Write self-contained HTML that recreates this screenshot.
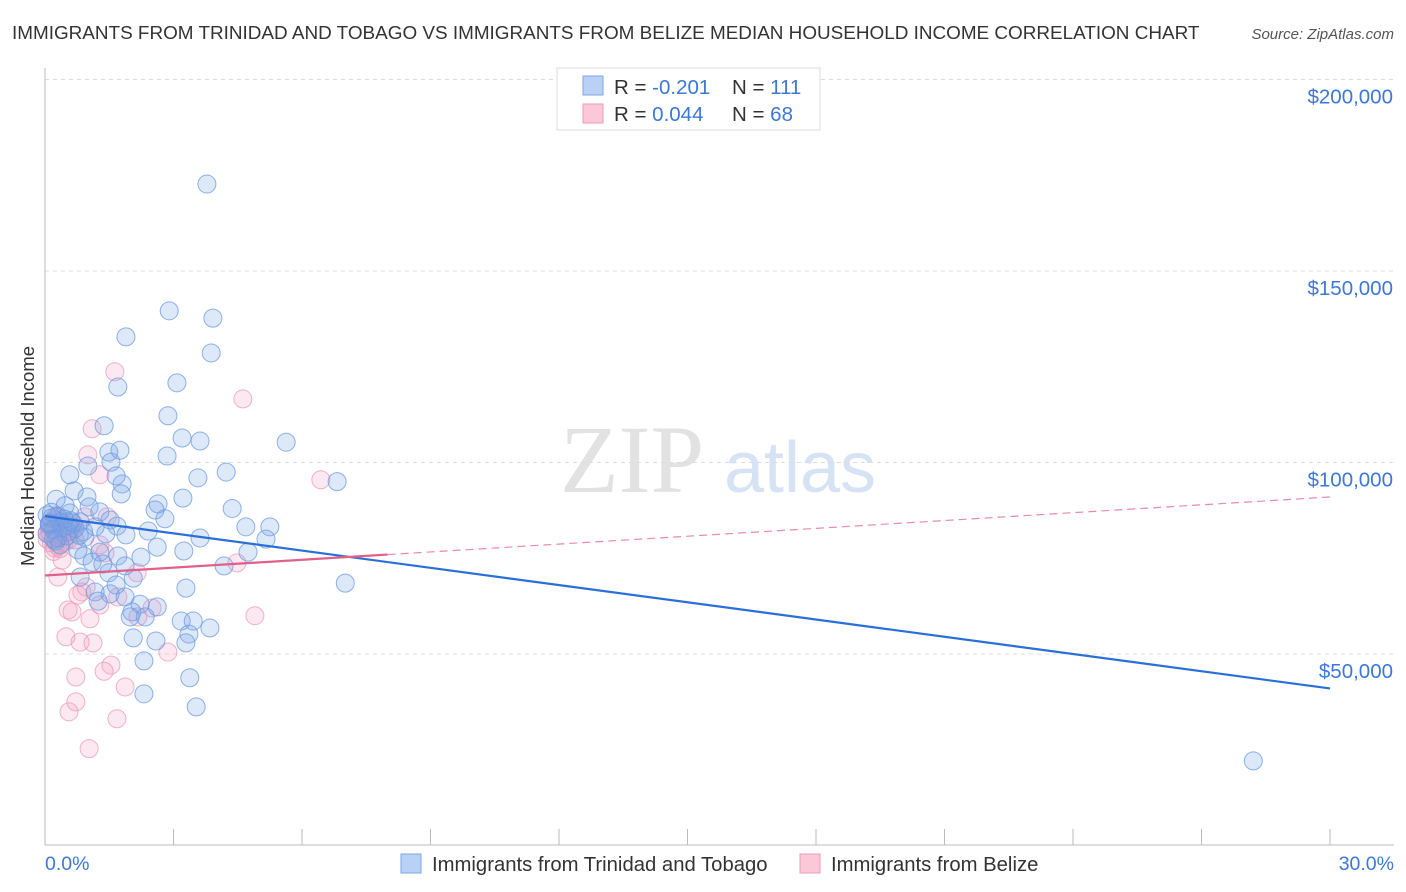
<!DOCTYPE html>
<html><head><meta charset="utf-8"><style>
body{margin:0;background:#fff;font-family:"Liberation Sans",sans-serif;}
#wrap{position:relative;width:1406px;height:892px;overflow:hidden;}
</style></head><body>
<div id="wrap">
<svg id="svg" width="1406" height="892" xmlns="http://www.w3.org/2000/svg">
<text x="12" y="39" font-size="18.9" fill="#333">IMMIGRANTS FROM TRINIDAD AND TOBAGO VS IMMIGRANTS FROM BELIZE MEDIAN HOUSEHOLD INCOME CORRELATION CHART</text>
<text x="1394" y="39" font-size="15" fill="#555" text-anchor="end" font-style="italic">Source: ZipAtlas.com</text>
<text x="632" y="492" font-size="96" fill="#e2e2e2" text-anchor="middle" font-family="Liberation Serif,serif">ZIP</text>
<text x="800" y="492" font-size="72" fill="#d6e3f5" text-anchor="middle">atlas</text>
<text x="34" y="456" font-size="18.5" fill="#333" text-anchor="middle" transform="rotate(-90 34 456)">Median Household Income</text>
<g id="grid"></g><g id="pts"></g><g id="lines"></g>
<g>
<rect x="557" y="68" width="263" height="62" fill="#fff" stroke="#ddd"/>
<rect x="583" y="76" width="20" height="19" fill="#b9d1f5" stroke="#7aa6e6"/>
<rect x="583" y="104" width="20" height="19" fill="#fbc8d8" stroke="#ef9ab5"/>
<text x="614" y="94" font-size="20.5" fill="#333">R = <tspan fill="#3b78d8">-0.201</tspan></text>
<text x="732" y="94" font-size="20.5" fill="#333">N = <tspan fill="#3b78d8">111</tspan></text>
<text x="614" y="121" font-size="20.5" fill="#333">R = <tspan fill="#3b78d8"> 0.044</tspan></text>
<text x="732" y="121" font-size="20.5" fill="#333">N = <tspan fill="#3b78d8">68</tspan></text>
</g>
<g>
<rect x="401" y="854" width="20" height="19" fill="#b9d1f5" stroke="#7aa6e6"/>
<text x="432" y="871" font-size="20.3" fill="#333">Immigrants from Trinidad and Tobago</text>
<rect x="800" y="854" width="20" height="19" fill="#fbc8d8" stroke="#ef9ab5"/>
<text x="831" y="871" font-size="20.3" fill="#333">Immigrants from Belize</text>
</g>
<text x="45" y="870" font-size="19.5" fill="#3b78d8">0.0%</text>
<text x="1394" y="870" font-size="19.5" fill="#3b78d8" text-anchor="end">30.0%</text>
</svg>
</div>
<script>
const yTicks=[50000,100000,150000,200000];
const yTickLabels=["$50,000","$100,000","$150,000","$200,000"];
const xTicks=[0,3,6,9,12,15,18,21,24,27,30];
const blueX=[3.78,2.90,3.92,1.89,3.88,1.70,3.08,2.87,1.38,3.20,3.62,5.63,1.75,2.85,1.49,1.54,4.23,0.58,3.57,6.82,1.66,1.00,1.80,0.68,1.78,0.98,0.26,3.22,2.64,0.47,1.03,4.37,2.57,1.28,0.58,0.05,2.80,1.52,0.35,0.82,0.12,1.17,5.25,4.69,1.68,2.41,0.54,1.42,1.89,0.30,0.93,3.62,5.16,2.62,0.77,1.28,4.74,3.24,0.91,1.70,2.24,1.10,1.87,1.35,4.18,1.49,0.82,2.06,1.66,7.01,3.29,1.17,1.52,1.87,1.24,2.22,2.62,2.03,2.34,1.99,3.18,3.46,3.85,3.36,2.06,2.59,3.29,2.31,3.38,2.31,3.53,28.21,0.1,0.2,0.15,0.4,0.6,0.05,0.3,0.5,0.7,0.25,0.45,0.1,0.8,0.35,0.2,0.55,0.65,0.9,0.15];
const blueY=[172.7,139.6,137.7,132.8,128.6,119.7,120.8,112.2,109.6,106.4,105.6,105.3,103.2,101.7,102.7,100.1,97.5,96.8,96.0,95.0,96.5,99.1,94.4,92.6,91.8,91.0,90.4,90.7,89.2,88.7,88.4,88.0,87.6,87.1,86.8,86.3,85.3,85.0,84.5,84.5,84.2,83.2,83.2,83.2,83.4,82.1,81.9,81.4,81.1,80.3,80.5,80.3,80.0,77.9,77.2,76.6,76.6,76.9,75.6,75.6,75.3,74.0,73.0,73.5,73.0,71.2,70.1,69.8,68.0,68.5,67.2,66.2,65.7,64.9,63.8,63.0,62.3,61.0,59.7,59.7,58.6,58.6,56.8,55.2,54.2,53.4,52.9,48.2,43.8,39.6,36.2,22.1,84.0,82.5,85.5,83.0,84.8,81.5,86.0,80.8,82.8,79.5,85.2,83.8,81.0,78.5,80.0,83.5,84.2,82.0,87.0];
const pinkX=[4.62,1.63,1.10,1.00,6.44,1.28,1.45,0.93,0.35,0.12,0.70,1.28,0.23,1.40,4.48,0.40,2.15,0.30,0.96,0.86,0.77,1.70,1.28,2.50,0.54,0.63,4.90,1.05,2.17,0.49,0.82,1.12,2.87,1.54,1.38,0.72,1.87,0.72,0.56,1.68,1.03,0.1,0.2,0.3,0.4,0.5,0.6,0.15,0.25,0.35,0.45,0.05,0.55,0.65,0.2,0.3,0.4,0.1,0.5,0.25,0.35,0.15,0.45,0.6,0.05,0.3,0.2,0.4];
const pinkY=[116.6,123.7,108.8,102.0,95.5,96.8,85.8,85.8,83.7,81.1,79.8,78.5,77.7,76.4,73.8,74.5,71.2,70.1,67.5,66.2,65.4,64.9,62.8,62.0,61.5,61.0,60.0,59.2,59.7,54.5,53.1,52.9,50.5,47.1,45.5,44.0,41.4,37.5,34.9,33.1,25.3,82.0,80.5,83.5,81.8,84.5,82.8,79.0,85.0,80.2,83.0,81.5,79.8,82.2,84.0,78.2,80.8,83.2,81.2,86.0,77.5,84.6,79.2,82.6,80.0,85.5,76.8,83.8];
const blueTrend=[86.0,41.0];
const pinkTrend=[70.5,91.0];
const pinkSolidEnd=8.0;
const X=v=>45+v/30*1285, Y=v=>845.5-v/50*191.5;
const NS="http://www.w3.org/2000/svg";
function mk(t,a,p){const e=document.createElementNS(NS,t);for(const k in a)e.setAttribute(k,a[k]);p.appendChild(e);return e;}
const grid=document.getElementById('grid'),pts=document.getElementById('pts'),lines=document.getElementById('lines');
yTicks.forEach((v,i)=>{
 const l=mk('line',{x1:45,x2:1394,y1:Y(v/1000),y2:Y(v/1000),stroke:'#ddd','stroke-dasharray':'4,4'},grid);
 
 
 const t=mk('text',{x:1393,y:Y(v/1000)+24,'font-size':20.5,fill:'#3b78d8','text-anchor':'end'},grid);
 t.textContent=yTickLabels[i];
 
 
});
const ax=mk('line',{x1:45,x2:45,y1:68,y2:845,stroke:'#bbb'},grid);


const bx=mk('line',{x1:45,x2:1394,y1:845,y2:845,stroke:'#bbb'},grid);


xTicks.forEach(v=>{
 const l=mk('line',{x1:X(v),x2:X(v),y1:829,y2:845,stroke:'#bbb'},grid);
 
 
});
function dots(xs,ys,fill,stroke,name){xs.forEach((x,i)=>{
 const c=mk('circle',{cx:X(x),cy:Y(ys[i]),r:9,fill:fill,stroke:stroke,'stroke-width':1,'stroke-opacity':0.75},pts);
 
 
});}
dots(pinkX,pinkY,'rgba(245,165,195,0.25)','#ee9ab6','belize-point');
dots(blueX,blueY,'rgba(120,165,230,0.25)','#6a9ae0','trinidad-point');
const bt=v=>blueTrend[0]+(blueTrend[1]-blueTrend[0])*v/30, pt=v=>pinkTrend[0]+(pinkTrend[1]-pinkTrend[0])*v/30;
let e=mk('line',{x1:X(0),y1:Y(bt(0)),x2:X(30),y2:Y(bt(30)),stroke:'#2a6fd8','stroke-width':2.2},lines);


e=mk('line',{x1:X(pinkSolidEnd),y1:Y(pt(pinkSolidEnd)),x2:X(30),y2:Y(pt(30)),stroke:'#e88aa8','stroke-width':1.2,'stroke-dasharray':'8,5'},lines);


e=mk('line',{x1:X(0),y1:Y(pt(0)),x2:X(pinkSolidEnd),y2:Y(pt(pinkSolidEnd)),stroke:'#e0608a','stroke-width':2.2},lines);


</script>
</body></html>
